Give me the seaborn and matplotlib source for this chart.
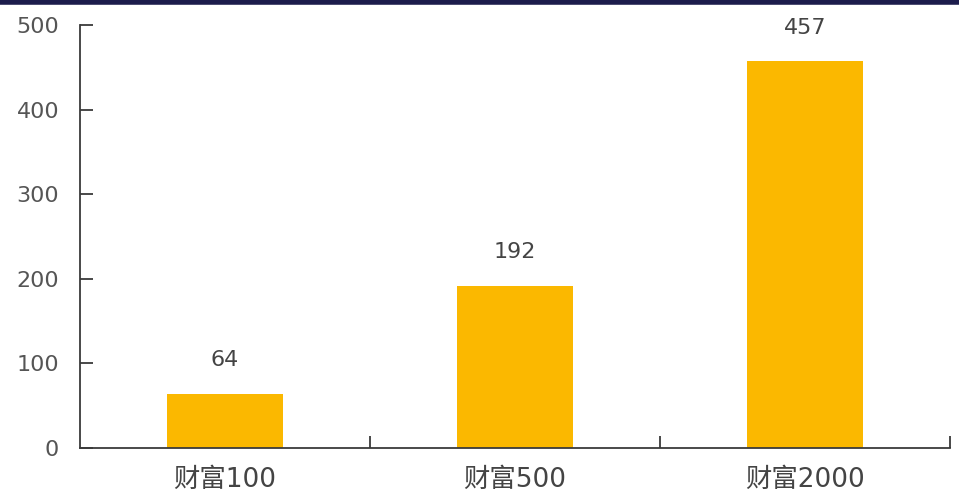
import matplotlib
matplotlib.use("Agg")
import matplotlib.pyplot as plt
import seaborn as sns
import pandas as pd
from matplotlib.lines import Line2D
from matplotlib.ticker import FixedLocator

categories = ["财富100", "财富500", "财富2000"]
values = [64, 192, 457]
yticks = [0, 100, 200, 300, 400, 500]

sns.set_style("white")
plt.rcParams['font.family'] = ['DejaVu Sans', 'Noto Sans CJK SC']

df = pd.DataFrame({"cat": categories, "val": values})

fig = plt.figure(figsize=(9.59, 4.96), dpi=100)
ax = fig.add_axes([0.0834, 0.0968, 0.9072, 0.8528])
sns.barplot(data=df, x="cat", y="val", color="#FBB800", width=0.4, ax=ax,
            saturation=1, edgecolor="none")

ax.set_xlim(-0.5, 2.5)
ax.set_ylim(0, 500)
ax.set_yticks(yticks)
ax.set_xlabel("")
ax.set_ylabel("")
for s in ["top", "right"]:
    ax.spines[s].set_visible(False)
for s in ["left", "bottom"]:
    ax.spines[s].set_color("#3a3a3a")
    ax.spines[s].set_linewidth(1.3)

ax.tick_params(axis="y", left=True, direction="in", length=9.5, width=1.3,
               color="#3a3a3a", labelsize=16, labelcolor="#555555", pad=15)
ax.tick_params(axis="x", which="major", bottom=True, length=0, labelsize=19,
               labelcolor="#444444", pad=14)
ax.xaxis.set_minor_locator(FixedLocator([0.5, 1.5, 2.5]))
ax.tick_params(axis="x", which="minor", bottom=True, direction="in", length=8.5,
               width=1.3, color="#3a3a3a")

for i, v in enumerate(values):
    ax.text(i, v + 40, str(v), ha="center", va="center", fontsize=16,
            color="#444444")

fig.add_artist(Line2D([0, 1], [0.996, 0.996], transform=fig.transFigure,
                      color="#1c1c4c", linewidth=4))

fig.savefig("out.png", dpi=100, facecolor="white")
